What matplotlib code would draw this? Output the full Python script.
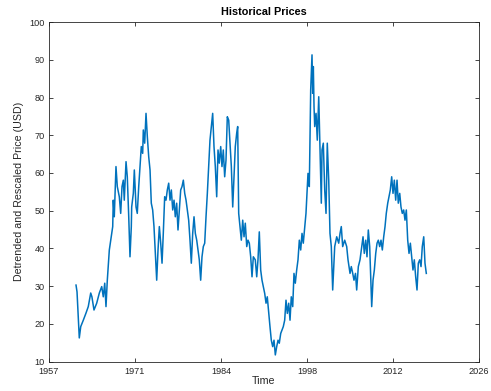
import numpy as np
import matplotlib.pyplot as plt

plt.rcParams['font.family'] = ['Liberation Sans', 'DejaVu Sans']

# decimal years and detrended price
years = [1961.90, 1962.06, 1962.42, 1962.65, 1963.06, 1963.49, 1963.85, 1964.24, 1964.43, 1964.76,
         1965.19, 1965.61, 1965.99, 1966.24, 1966.47, 1966.67, 1966.88, 1967.20, 1967.42, 1967.74,
         1967.83, 1967.99, 1968.26, 1968.47, 1968.79, 1969.01, 1969.22, 1969.43, 1969.58, 1969.86,
         1970.06, 1970.29, 1970.49, 1970.70, 1970.76, 1971.02, 1971.18, 1971.45, 1971.65, 1971.88,
         1972.08, 1972.29, 1972.51, 1972.61, 1972.83, 1973.04, 1973.25, 1973.47, 1973.68, 1973.88,
         1974.10, 1974.31, 1974.52, 1974.74, 1974.95, 1975.16, 1975.38, 1975.59, 1975.79, 1976.01,
         1976.22, 1976.43, 1976.65, 1976.86, 1977.07, 1977.29, 1977.50, 1977.70, 1977.92, 1978.13,
         1978.34, 1978.56, 1978.77, 1978.98, 1979.20, 1979.41, 1979.61, 1979.83, 1980.04, 1980.25,
         1980.47, 1980.68, 1980.89, 1981.11, 1981.31, 1981.52, 1981.74, 1981.95, 1982.16, 1982.38,
         1982.59, 1982.80, 1983.02, 1983.22, 1983.43, 1983.65, 1983.86, 1984.07, 1984.29, 1984.50,
         1984.70, 1984.93, 1985.13, 1985.34, 1985.56, 1985.77, 1985.98, 1986.20, 1986.41, 1986.62,
         1986.84, 1987.04, 1987.25, 1987.47, 1987.63, 1987.79, 1988.00, 1988.21, 1988.43, 1988.64,
         1988.84, 1989.07, 1989.27, 1989.48, 1989.70, 1989.91, 1990.12, 1990.43, 1990.66, 1990.86,
         1991.07, 1991.29, 1991.50, 1991.71, 1991.93, 1992.14, 1992.34, 1992.57, 1992.77, 1992.98,
         1993.20, 1993.41, 1993.62, 1993.84, 1994.05, 1994.25, 1994.48, 1994.68, 1994.89, 1995.11,
         1995.32, 1995.53, 1995.75, 1995.96, 1996.16, 1996.39, 1996.59, 1996.80, 1997.02, 1997.23,
         1997.44, 1997.66, 1997.87, 1998.07, 1998.30, 1998.50, 1998.82, 1999.03, 1999.25, 1999.46,
         1999.57, 1999.67, 1999.78, 1999.89, 2000.10, 2000.30, 2000.53, 2000.73, 2000.94, 2001.05,
         2001.26, 2001.48, 2001.69, 2001.89, 2002.12, 2002.32, 2002.53, 2002.75, 2003.07, 2003.39,
         2003.71, 2003.92, 2004.12, 2004.34, 2004.66, 2004.98, 2005.19, 2005.51, 2005.71, 2005.94,
         2006.14, 2006.38, 2006.57, 2006.83, 2007.10, 2007.37, 2007.58, 2007.78, 2008.01, 2008.21,
         2008.42, 2008.64, 2008.85, 2008.96, 2009.17, 2009.38, 2009.60, 2009.81, 2010.01, 2010.23,
         2010.44, 2010.65, 2010.87, 2011.08, 2011.28, 2011.51, 2011.71, 2011.92, 2012.14, 2012.35,
         2012.56, 2012.78, 2012.99, 2013.19, 2013.42, 2013.62, 2013.83, 2014.05, 2014.26, 2014.47,
         2014.69, 2014.90, 2015.11, 2015.33, 2015.53, 2015.74, 2015.96, 2016.17, 2016.38, 2016.60,
         2016.81, 2017.01, 2017.24, 2017.44, 2017.65]
price = [30.3, 28.5, 16.3, 19.3, 21.0, 22.9, 24.6, 28.2, 27.2, 23.7,
         25.5, 28.2, 29.9, 27.2, 30.8, 24.6, 31.6, 39.6, 42.2, 45.8,
         52.8, 48.4, 61.7, 56.4, 53.7, 49.3, 56.4, 58.1, 52.8, 63.0,
         59.0, 48.4, 37.8, 45.8, 51.0, 54.6, 60.8, 51.0, 49.3, 56.4,
         61.7, 67.0, 65.2, 71.4, 67.9, 75.8, 69.6, 64.3, 60.8, 52.0,
         50.2, 45.8, 38.7, 31.6, 39.6, 45.8, 41.4, 36.1, 44.0, 53.7,
         52.8, 55.5, 57.3, 52.8, 55.5, 50.2, 52.8, 48.4, 52.0, 44.9,
         50.2, 55.5, 56.4, 58.1, 54.6, 52.8, 50.2, 47.5, 42.2, 36.1,
         44.0, 48.4, 44.0, 42.2, 39.6, 37.0, 31.6, 37.8, 40.5, 41.4,
         48.4, 54.6, 61.7, 68.7, 72.3, 75.8, 67.0, 61.7, 53.7, 66.1,
         62.6, 67.0, 61.7, 66.1, 59.0, 63.4, 74.9, 74.0, 67.9, 61.7,
         51.0, 59.0, 67.0, 70.5, 72.3, 49.3, 45.8, 42.2, 47.5, 43.1,
         46.7, 40.5, 42.2, 41.4, 37.8, 32.5, 37.8, 37.0, 32.5, 37.0,
         44.4, 34.3, 31.6, 29.9, 28.1, 25.5, 27.2, 22.8, 19.3, 15.7,
         14.0, 15.7, 11.8, 14.0, 15.7, 14.9, 17.5, 18.4, 19.3, 21.0,
         26.3, 22.8, 25.5, 21.0, 27.2, 24.6, 33.4, 30.8, 34.3, 37.0,
         42.2, 39.6, 44.0, 41.4, 45.8, 49.3, 59.9, 56.4, 82.0, 91.3,
         81.1, 88.2, 77.6, 72.3, 75.8, 68.7, 80.2, 66.1, 52.0, 66.1,
         67.9, 55.5, 49.3, 67.9, 58.1, 44.0, 40.5, 29.0, 40.5, 43.1,
         41.4, 44.0, 45.8, 40.5, 42.2, 40.5, 37.0, 33.4, 35.2, 33.4,
         31.6, 33.4, 29.0, 35.2, 37.0, 40.5, 43.1, 38.7, 42.2, 37.8,
         44.9, 40.5, 29.9, 24.6, 31.6, 34.3, 38.7, 41.4, 42.2, 40.5,
         42.2, 39.6, 43.1, 45.8, 49.3, 52.0, 53.7, 55.5, 59.0, 54.6,
         58.1, 52.8, 58.1, 52.0, 54.6, 51.0, 49.3, 50.2, 47.5, 50.2,
         42.2, 38.7, 41.4, 37.8, 34.3, 37.0, 32.5, 29.0, 36.1, 37.0,
         35.2, 40.5, 43.1, 36.1, 33.4]

# date ticks every 5000 days, labelled with the year
tick_pos = [1957.60, 1971.29, 1984.98, 1998.66, 2012.35, 2026.04]
tick_labels = ['1957', '1971', '1984', '1998', '2012', '2026']

fig = plt.figure(figsize=(4.91, 3.91), dpi=100)
ax = fig.add_axes([0.0998, 0.0749, 0.8758, 0.8688])

ax.plot(years, price, color='#0072BD', linewidth=1.1)

ax.set_xlim(tick_pos[0], tick_pos[-1])
ax.set_ylim(10, 100)
ax.set_xticks(tick_pos)
ax.set_xticklabels(tick_labels)
ax.set_yticks(np.arange(10, 101, 10))

gray = '#262626'
for s in ax.spines.values():
    s.set_color(gray)
    s.set_linewidth(0.6)
ax.tick_params(direction='in', length=3, width=0.6, colors=gray, labelsize=6.6,
               top=True, right=True, pad=2)
ax.tick_params(axis='x', pad=4)
ax.tick_params(axis='y', pad=3)

ax.set_title('Historical Prices', fontsize=7.8, fontweight='bold', color='black', pad=5)
ax.set_xlabel('Time', fontsize=7.7, color=gray, labelpad=0)
ax.set_ylabel('Detrended and Rescaled Price (USD)', fontsize=7.7, color=gray, labelpad=4)

fig.savefig('out.png', dpi=100)
